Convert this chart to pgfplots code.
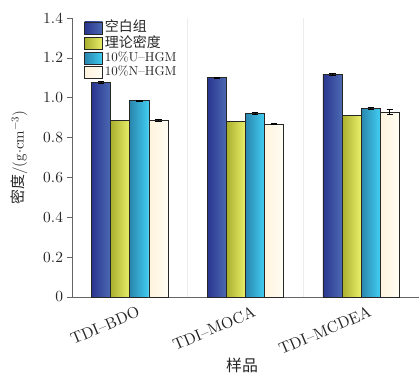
\documentclass[border=0pt]{standalone}
\usepackage{fontspec}
\setmainfont{lmroman10-regular.otf}[BoldFont=lmroman10-bold.otf, ItalicFont=lmroman10-italic.otf]
\usepackage{pgfplots}
\pgfplotsset{compat=1.18}
\usetikzlibrary{calc}
\newfontfamily\cjk{Noto Sans CJK SC}
\definecolor{bA}{HTML}{2A3590}\definecolor{bB}{HTML}{4C6AB2}
\definecolor{yA}{HTML}{A9B02E}\definecolor{yB}{HTML}{EAEF6A}
\definecolor{cA}{HTML}{2A86AE}\definecolor{cB}{HTML}{42CEF2}
\definecolor{wA}{HTML}{FFF3DC}\definecolor{wB}{HTML}{FFFDF4}
\pgfplotsset{
  barbase/.style={draw=black!85, line width=0.8pt},
  sB/.style={barbase, left color=bA, right color=bB, bar shift=-0.2475},
  sY/.style={barbase, left color=yA, right color=yB, bar shift=-0.0825},
  sC/.style={barbase, left color=cA, right color=cB, bar shift=0.0825},
  sW/.style={barbase, left color=wA, right color=wB, bar shift=0.2475},
  eb/.style={error bars/.cd, y dir=both, y explicit, /pgfplots/.cd},
}
\begin{document}
\begin{tikzpicture}
\begin{axis}[name=ax,
  scale only axis, width=347bp, height=279bp,
  ybar, bar width=0.165,
  xmin=0.5, xmax=3.5, ymin=0, ymax=1.4,
  axis x line*=bottom, axis y line*=left,
  axis line style={gray!80!black, line width=0.7pt},
  xtick={1,2,3}, xticklabels={TDI--BDO,TDI--MOCA,TDI--MCDEA},
  x tick style={draw=none},
  extra x ticks={1.5,2.5}, extra x tick labels={},
  extra x tick style={grid=major, major grid style={gray!15, line width=0.6pt}, tick style={draw=none}},
  ytick={0,0.2,0.4,0.6,0.8,1.0,1.2,1.4},
  yticklabels={0,0.2,0.4,0.6,0.8,1.0,1.2,1.4},
  tick align=outside, major tick length=4.5bp,
  y tick style={gray!80!black, line width=0.7pt},
  tick label style={font=\fontsize{15.5}{18}\selectfont, text=black!85},
  yticklabel style={xshift=-1bp},
  xticklabel style={font=\fontsize{16}{18}\selectfont, rotate=23, anchor=north east, xshift=8bp, yshift=-3bp},
  ylabel={{\cjk 密度}/(g$\cdot$cm$^{-3}$)},
  ylabel style={font=\fontsize{15}{17}\selectfont, text=black!85, at={(rel axis cs:0,0.5)}, anchor=south, yshift=41bp},
  xlabel={\cjk 样品},
  xlabel style={font=\fontsize{16}{18}\selectfont, text=black!85, at={(rel axis cs:0.49,0)}, anchor=north, yshift=-58bp},
  legend style={at={(rel axis cs:0.035,1.0)}, anchor=north west, draw=none, fill=none,
    font=\fontsize{13}{14}\selectfont, row sep=-1.5bp, inner sep=0pt, cells={anchor=west, text=black!85}},
  legend image code/.code={\draw[#1, draw=black!85, line width=0.6pt, yshift=-1bp] (0bp,-6bp) rectangle (18bp,6bp);},
  error bars/error bar style={black, line width=0.8pt},
  error bars/error mark options={rotate=90, mark size=3.2bp, line width=0.8pt, black},
]
% 空白组
\addplot[sB, eb] table[x=x, y=y, y error=e] {
x y e
1 1.077 0.003
};
\addlegendentry{{\cjk\fontsize{14}{14}\selectfont 空白组}}
\addplot[sB, eb, forget plot] table[x=x, y=y, y error=e] {
x y e
2 1.100 0.003
};
\addplot[sB, eb, forget plot] table[x=x, y=y, y error=e] {
x y e
3 1.117 0.003
};
% 理论密度
\addplot[sY] table[x=x, y=y] {
x y
1 0.885
};
\addlegendentry{{\cjk\fontsize{14}{14}\selectfont 理论密度}}
\addplot[sY, forget plot] table[x=x, y=y] {
x y
2 0.880
};
\addplot[sY, forget plot] table[x=x, y=y] {
x y
3 0.911
};
% 10% U-HGM
\addplot[sC, eb] table[x=x, y=y, y error=e] {
x y e
1 0.986 0.003
};
\addlegendentry{10\%U--HGM}
\addplot[sC, eb, forget plot] table[x=x, y=y, y error=e] {
x y e
2 0.921 0.003
};
\addplot[sC, eb, forget plot] table[x=x, y=y, y error=e] {
x y e
3 0.946 0.003
};
% 10% N-HGM
\addplot[sW, eb] table[x=x, y=y, y error=e] {
x y e
1 0.887 0.004
};
\addlegendentry{10\%N--HGM}
\addplot[sW, eb, forget plot] table[x=x, y=y, y error=e] {
x y e
2 0.868 0.003
};
\addplot[sW, eb, forget plot] table[x=x, y=y, y error=e] {
x y e
3 0.927 0.012
};
\end{axis}
\pgfresetboundingbox
\path ($(ax.south west)+(-72bp,-80bp)$) rectangle ($(ax.north east)+(0bp,18bp)$);
\end{tikzpicture}
\end{document}
